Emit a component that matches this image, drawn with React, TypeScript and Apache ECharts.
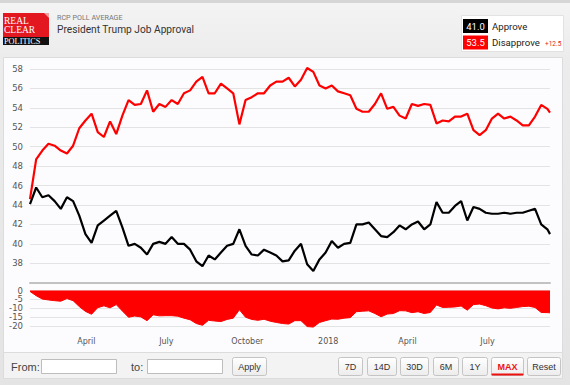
import React, { useEffect, useRef } from "react";
import * as echarts from "echarts";

const dates = [
  "2017-01-27", "2017-02-03", "2017-02-10", "2017-02-17", "2017-02-24", "2017-03-03", "2017-03-10", "2017-03-17",
  "2017-03-24", "2017-03-31", "2017-04-07", "2017-04-14", "2017-04-21", "2017-04-28", "2017-05-05", "2017-05-12",
  "2017-05-19", "2017-05-26", "2017-06-02", "2017-06-09", "2017-06-16", "2017-06-23", "2017-06-30", "2017-07-07",
  "2017-07-14", "2017-07-21", "2017-07-28", "2017-08-04", "2017-08-11", "2017-08-18", "2017-08-25", "2017-09-01",
  "2017-09-08", "2017-09-15", "2017-09-22", "2017-09-29", "2017-10-06", "2017-10-13", "2017-10-20", "2017-10-27",
  "2017-11-03", "2017-11-10", "2017-11-17", "2017-11-24", "2017-12-01", "2017-12-08", "2017-12-15", "2017-12-22",
  "2017-12-29", "2018-01-05", "2018-01-12", "2018-01-19", "2018-01-26", "2018-02-02", "2018-02-09", "2018-02-16",
  "2018-02-23", "2018-03-02", "2018-03-09", "2018-03-16", "2018-03-23", "2018-03-30", "2018-04-06", "2018-04-13",
  "2018-04-20", "2018-04-27", "2018-05-04", "2018-05-11", "2018-05-18", "2018-05-25", "2018-06-01", "2018-06-08",
  "2018-06-15", "2018-06-22", "2018-06-29", "2018-07-06", "2018-07-13", "2018-07-20", "2018-07-27", "2018-08-03",
  "2018-08-10", "2018-08-17", "2018-08-24", "2018-08-31", "2018-09-07", "2018-09-10",
];

const approve = [
  44.1, 45.8, 44.8, 45.0, 44.4, 43.6, 44.8, 44.4, 42.9, 41.0,
  40.1, 41.9, 42.4, 42.9, 43.4, 41.7, 39.8, 40.0, 39.6, 38.9,
  40.0, 40.2, 40.0, 40.7, 40.0, 40.0, 39.4, 38.2, 37.7, 38.8,
  38.4, 39.1, 39.8, 40.0, 41.5, 39.8, 38.9, 38.8, 39.4, 39.1,
  38.8, 38.2, 38.3, 39.3, 40.0, 37.9, 37.2, 38.4, 39.1, 40.3,
  39.6, 40.0, 40.1, 42.0, 42.0, 42.2, 41.5, 40.8, 40.7, 41.2,
  41.9, 41.5, 42.0, 42.3, 41.5, 42.0, 44.3, 43.2, 43.2, 43.9,
  44.4, 42.4, 43.8, 43.6, 43.2, 43.1, 43.1, 43.2, 43.1, 43.2,
  43.2, 43.4, 43.6, 42.0, 41.5, 41.0,
];

const disapprove = [
  44.6, 48.7, 49.6, 50.3, 50.1, 49.6, 49.3, 50.1, 51.9, 52.7,
  53.4, 51.5, 51.0, 52.6, 51.3, 53.2, 54.8, 54.3, 54.4, 55.8,
  53.6, 54.4, 54.1, 54.8, 54.4, 55.5, 55.8, 56.7, 57.2, 55.5,
  55.5, 56.5, 56.0, 55.5, 52.3, 54.8, 55.1, 55.5, 55.5, 56.3,
  56.7, 56.7, 57.1, 56.2, 56.9, 58.1, 57.7, 56.3, 56.0, 56.3,
  55.7, 55.5, 55.3, 53.9, 53.6, 53.6, 54.4, 55.5, 53.9, 54.1,
  53.2, 52.9, 54.4, 54.2, 54.4, 54.3, 52.4, 52.7, 52.6, 53.1,
  53.1, 53.4, 51.7, 51.2, 51.7, 52.9, 53.4, 52.9, 53.1, 52.7,
  52.2, 52.2, 53.1, 54.3, 53.9, 53.5,
];

const tickDates = ["2017-04-01", "2017-07-01", "2017-10-01", "2018-01-01", "2018-04-01", "2018-07-01"];
const tickLabels = ["April", "July", "October", "2018", "April", "July"];

const rangeButtons = ["7D", "14D", "30D", "6M", "1Y", "MAX", "Reset"];

function ts(s: string): number {
  const [y, m, d] = s.split("-").map(Number);
  return new Date(y, m - 1, d).getTime();
}

export default function App() {
  const ref = useRef<HTMLDivElement>(null);

  useEffect(() => {
    if (!ref.current) return;
    const chart = echarts.init(ref.current, null, { renderer: "svg", width: 570, height: 385 });

    const times = dates.map(ts);
    const approveData = times.map((t, i) => [t, approve[i]]);
    const disapproveData = times.map((t, i) => [t, disapprove[i]]);
    const spreadData = times.map((t, i) => [t, +(approve[i] - disapprove[i]).toFixed(1)]);
    const tickTimes = tickDates.map(ts);
    const xMin = times[0];
    const xMax = times[times.length - 1];

    const lastA = approve[approve.length - 1];
    const lastD = disapprove[disapprove.length - 1];
    const lastSpread = lastD - lastA;

    const uiFont = "Roboto, 'Liberation Sans', Arial, sans-serif";
    const ctlFont = "'Liberation Sans', Arial, sans-serif";
    const axisFont = "'DejaVu Sans', Verdana, sans-serif";
    const serif = "'Liberation Serif', 'DejaVu Serif', serif";

    const btnX = [338, 367, 400, 433, 462, 491, 527];
    const btnW = [24, 29, 28, 25, 25, 32, 33];

    const grad = () =>
      new echarts.graphic.LinearGradient(0, 0, 0, 1, [
        { offset: 0, color: "#ffffff" },
        { offset: 1, color: "#ececec" },
      ]);

    const buttons: any[] = [];
    rangeButtons.forEach((b, i) => {
      buttons.push({
        type: "rect",
        z: -5,
        shape: { x: btnX[i] + 0.5, y: 357.5, width: btnW[i], height: 18, r: 2 },
        style: { fill: grad(), stroke: "#c4c4c4", lineWidth: 1 },
      });
      buttons.push({
        type: "text",
        z: -4,
        x: btnX[i] + btnW[i] / 2 + 0.5,
        y: 366.5,
        style: {
          text: b,
          fill: b === "MAX" ? "#ee1111" : "#333",
          font: (b === "MAX" ? "bold " : "") + "9px " + ctlFont,
          align: "center",
          verticalAlign: "middle",
        },
      });
    });
    buttons.push({
      type: "rect",
      z: -4,
      shape: { x: 491.5, y: 373.5, width: 32, height: 2 },
      style: { fill: "#ee1111" },
    });

    const option: any = {
      animation: false,
      backgroundColor: "transparent",
      graphic: [
        {
          type: "rect",
          z: -20,
          shape: { x: 0, y: 0, width: 570, height: 385 },
          style: {
            fill: new echarts.graphic.LinearGradient(0, 0, 0, 1, [
              { offset: 0, color: "#f4f4f4" },
              { offset: 0.15, color: "#ececec" },
              { offset: 1, color: "#e4e4e4" },
            ]),
          },
        },
        { type: "rect", z: -19, shape: { x: 0, y: 0, width: 570, height: 3 }, style: { fill: "#d6d6d6" } },
        // logo
        { type: "rect", z: -10, shape: { x: 3, y: 13, width: 46, height: 24 }, style: { fill: "#e3171f" } },
        { type: "polygon", z: -9, shape: { points: [[44, 13], [49, 13], [49, 18]] }, style: { fill: "#f0a0a0" } },
        { type: "rect", z: -10, shape: { x: 3, y: 37, width: 46, height: 8 }, style: { fill: "#111" } },
        {
          type: "text", z: -8, x: 4, y: 20.5,
          style: { text: "REAL", fill: "#fff", font: "9.5px " + serif, verticalAlign: "middle" },
        },
        {
          type: "text", z: -8, x: 4, y: 30.3,
          style: { text: "CLEAR", fill: "#fff", font: "9.5px " + serif, verticalAlign: "middle" },
        },
        {
          type: "text", z: -8, x: 4, y: 41,
          style: { text: "POLITICS", fill: "#fff", font: "8.3px " + serif, verticalAlign: "middle" },
        },
        // title
        {
          type: "text", z: -8, x: 57, y: 17,
          style: { text: "RCP POLL AVERAGE", fill: "#777", font: "7.2px " + uiFont, verticalAlign: "middle" },
        },
        {
          type: "text", z: -8, x: 57, y: 29.5,
          style: { text: "President Trump Job Approval", fill: "#333", font: "10.2px " + uiFont, verticalAlign: "middle" },
        },
        // legend box
        {
          type: "rect", z: -10, shape: { x: 461.5, y: 15.5, width: 102, height: 36 },
          style: { fill: "#ffffff", stroke: "#e2e2e2", lineWidth: 1 },
        },
        { type: "rect", z: -9, shape: { x: 463, y: 19, width: 25, height: 14 }, style: { fill: "#000" } },
        {
          type: "text", z: -8, x: 475.5, y: 26.3,
          style: { text: lastA.toFixed(1), fill: "#fff", font: "9.5px " + uiFont, align: "center", verticalAlign: "middle" },
        },
        { type: "rect", z: -9, shape: { x: 463, y: 35.5, width: 25, height: 14 }, style: { fill: "#ff0000" } },
        {
          type: "text", z: -8, x: 475.5, y: 42.8,
          style: { text: lastD.toFixed(1), fill: "#fff", font: "9.5px " + uiFont, align: "center", verticalAlign: "middle" },
        },
        {
          type: "text", z: -8, x: 492, y: 26,
          style: { text: "Approve", fill: "#222", font: "9.6px " + uiFont, verticalAlign: "middle" },
        },
        {
          type: "text", z: -8, x: 492, y: 42.5,
          style: { text: "Disapprove", fill: "#222", font: "9.6px " + uiFont, verticalAlign: "middle" },
        },
        {
          type: "text", z: -8, x: 545, y: 43.5,
          style: { text: "+" + lastSpread.toFixed(1), fill: "#e61a1a", font: "6.5px " + uiFont, verticalAlign: "middle" },
        },
        // chart panel
        {
          type: "rect", z: -10, shape: { x: 3.5, y: 57.5, width: 559, height: 295 },
          style: { fill: "#fcfcfe", stroke: "#dcdcdc", lineWidth: 1 },
        },
        // controls bar
        {
          type: "rect", z: -10, shape: { x: 3.5, y: 352.5, width: 559, height: 26 },
          style: { fill: "#f3f3f3", stroke: "#dcdcdc", lineWidth: 1 },
        },
        {
          type: "text", z: -8, x: 11, y: 366.5,
          style: { text: "From:", fill: "#444", font: "11px " + ctlFont, verticalAlign: "middle" },
        },
        {
          type: "rect", z: -9, shape: { x: 41.5, y: 359.5, width: 75, height: 14 },
          style: { fill: "#fff", stroke: "#bdbdbd", lineWidth: 1 },
        },
        {
          type: "text", z: -8, x: 131, y: 366.5,
          style: { text: "to:", fill: "#444", font: "11px " + ctlFont, verticalAlign: "middle" },
        },
        {
          type: "rect", z: -9, shape: { x: 147.5, y: 359.5, width: 75, height: 14 },
          style: { fill: "#fff", stroke: "#bdbdbd", lineWidth: 1 },
        },
        {
          type: "rect", z: -9, shape: { x: 232.5, y: 357.5, width: 34, height: 18, r: 2 },
          style: { fill: grad(), stroke: "#c4c4c4", lineWidth: 1 },
        },
        {
          type: "text", z: -8, x: 249.5, y: 366.5,
          style: { text: "Apply", fill: "#333", font: "9px " + ctlFont, align: "center", verticalAlign: "middle" },
        },
        ...buttons,
      ],
      grid: [
        { left: 30, top: 69, width: 520, height: 213.7 },
        { left: 30, top: 290.5, width: 520, height: 35.7 },
      ],
      xAxis: [
        {
          type: "value",
          gridIndex: 0,
          min: xMin,
          max: xMax,
          axisLabel: { show: false },
          axisTick: { show: false },
          splitLine: { show: false },
          axisLine: { show: true, onZero: false, lineStyle: { color: "#c2c2c2", width: 2 } },
        },
        {
          type: "value",
          gridIndex: 1,
          min: xMin,
          max: xMax,
          axisTick: { show: false },
          splitLine: { show: false },
          axisLine: { show: false, onZero: false },
          axisLabel: {
            customValues: tickTimes,
            formatter: (v: number) => {
              let best = 0;
              let bd = Infinity;
              tickTimes.forEach((t, i) => {
                const d = Math.abs(t - v);
                if (d < bd) {
                  bd = d;
                  best = i;
                }
              });
              return bd < 86400000 ? tickLabels[best] : "";
            },
            fontSize: 8,
            fontFamily: axisFont,
            color: "#555",
            margin: 11,
            hideOverlap: false,
          },
        },
      ],
      yAxis: [
        {
          type: "value",
          gridIndex: 0,
          min: 36,
          max: 58,
          interval: 2,
          axisLine: { show: false },
          axisTick: { show: false },
          splitLine: { lineStyle: { color: "#e3e3e3", width: 1 } },
          axisLabel: { showMinLabel: false, fontSize: 8.5, fontFamily: axisFont, color: "#555", margin: 7 },
        },
        {
          type: "value",
          gridIndex: 1,
          min: -20,
          max: 0,
          interval: 5,
          axisLine: { show: false },
          axisTick: { show: false },
          splitLine: { lineStyle: { color: "#e3e3e3", width: 1 } },
          axisLabel: { fontSize: 8.5, fontFamily: axisFont, color: "#555", margin: 7 },
        },
      ],
      series: [
        {
          name: "Disapprove",
          type: "line",
          xAxisIndex: 0,
          yAxisIndex: 0,
          data: disapproveData,
          showSymbol: false,
          clip: false,
          lineStyle: { color: "#ff0000", width: 2.2 },
          itemStyle: { color: "#ff0000" },
        },
        {
          name: "Approve",
          type: "line",
          xAxisIndex: 0,
          yAxisIndex: 0,
          data: approveData,
          showSymbol: false,
          clip: false,
          lineStyle: { color: "#000000", width: 2.2 },
          itemStyle: { color: "#000000" },
        },
        {
          name: "Spread",
          type: "line",
          xAxisIndex: 1,
          yAxisIndex: 1,
          data: spreadData,
          showSymbol: false,
          clip: false,
          lineStyle: { color: "#ff0000", width: 1 },
          itemStyle: { color: "#ff0000" },
          areaStyle: { color: "#ff0000", opacity: 1 },
        },
      ],
    };

    chart.setOption(option);
    return () => chart.dispose();
  }, []);

  return (
    <div
      ref={ref}
      style={{ position: "absolute", left: 0, top: 0, width: 570, height: 385, overflow: "hidden" }}
    />
  );
}
